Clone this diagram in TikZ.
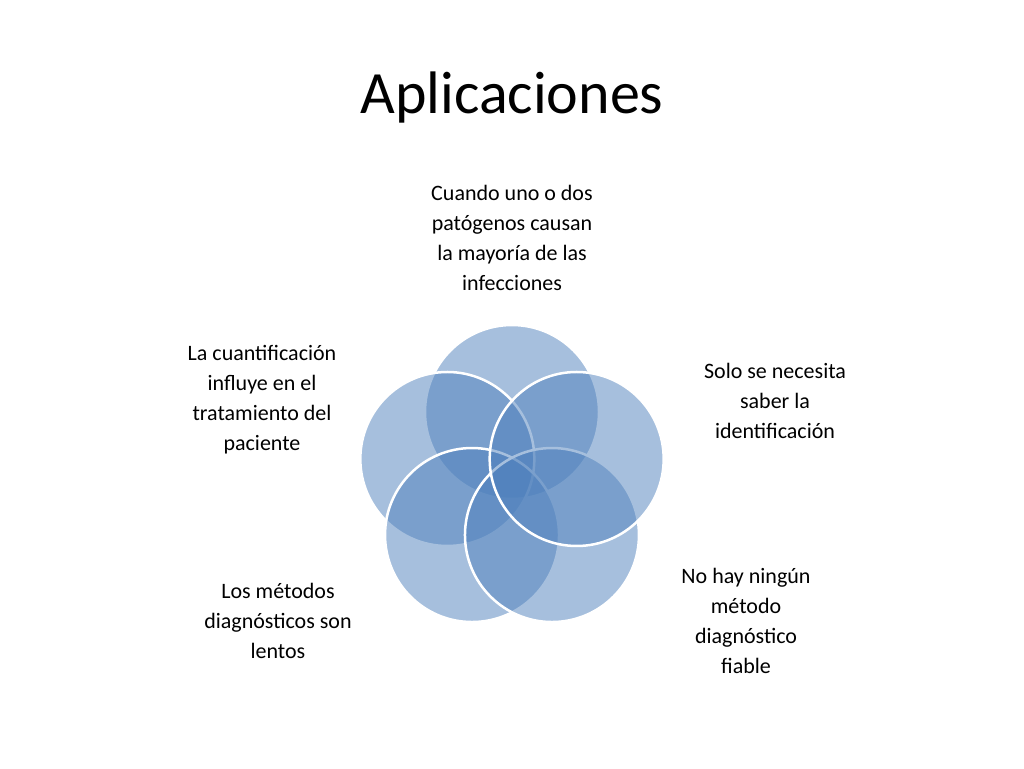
\documentclass[tikz,border=0pt]{standalone}
\usepackage{fontspec}
\setmainfont{Carlito}
\begin{document}
\begin{tikzpicture}[x=1pt,y=-1pt,
  circ/.style={fill={rgb,255:red,79;green,129;blue,189},fill opacity=0.5,draw=white,line width=2.5pt},
  lbl/.style={align=center,font=\fontsize{22}{30}\selectfont,text=black,inner sep=0pt}]
\useasboundingbox (0,0) rectangle (1024,768);
\fill[white] (0,0) rectangle (1024,768);
\node[font=\fontsize{60}{70}\selectfont] (title) at (512,98) {Aplicaciones};
\foreach \a/\n in {90/c1,18/c2,-54/c3,-126/c4,162/c5}
  \path[circ] (512,480) ++(\a:-68) circle (87);
\path[circ] (512,480) ++(162:-68) coordinate (c5);
\node[lbl] (t1) at (512,238) {Cuando uno o dos\\patógenos causan\\la mayoría de las\\infecciones};
\node[lbl] (t2) at (775,401) {Solo se necesita\\saber la\\identificación};
\node[lbl] (t3) at (746,621) {No hay ningún\\método\\diagnóstico\\fiable};
\node[lbl] (t4) at (278,621) {Los métodos\\diagnósticos son\\lentos};
\node[lbl] (t5) at (262,400) {La cuantificación\\influye en el\\tratamiento del\\paciente};
\end{tikzpicture}
\end{document}
